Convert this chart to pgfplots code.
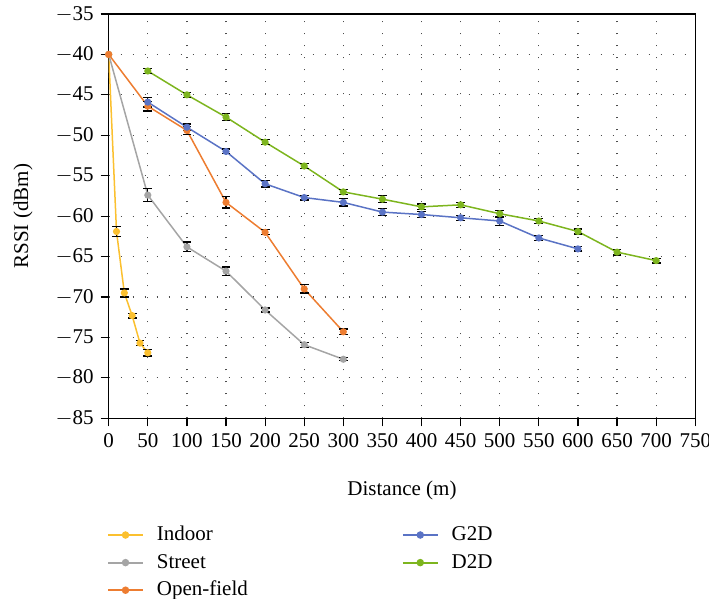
\documentclass[border=0pt]{standalone}
\usepackage{pgfplots}
\usepackage{pgfplotstable}
\pgfplotsset{compat=1.18}
\usepackage{fontspec}
\setmainfont{Liberation Serif}

\definecolor{cIn}{HTML}{FBC02F}
\definecolor{cSt}{HTML}{A5A5A5}
\definecolor{cOp}{HTML}{ED7D31}
\definecolor{cG}{HTML}{5A73C5}
\definecolor{cD}{HTML}{7DB51E}

\pgfplotstableread{
x y e
0 -40 0
10 -61.9 0.6
20 -69.5 0.5
30 -72.3 0.3
40 -75.7 0.3
50 -76.9 0.4
}\tIn
\pgfplotstableread{
x y e
0 -40 0
50 -57.4 0.8
100 -63.8 0.6
150 -66.8 0.5
200 -71.6 0.25
250 -75.9 0.3
300 -77.7 0.2
}\tSt
\pgfplotstableread{
x y e
0 -40 0
50 -46.4 0.6
100 -49.4 0.5
150 -58.3 0.7
200 -62.0 0.3
250 -69.0 0.5
300 -74.3 0.35
}\tOp
\pgfplotstableread{
x y e
50 -45.9 0.6
100 -49.0 0.4
150 -52.0 0.3
200 -56.0 0.4
250 -57.7 0.3
300 -58.3 0.45
350 -59.5 0.4
400 -59.8 0.35
450 -60.2 0.3
500 -60.6 0.6
550 -62.7 0.3
600 -64.05 0.25
}\tG
\pgfplotstableread{
x y e
50 -42.05 0.3
100 -45.0 0.3
150 -47.75 0.4
200 -50.85 0.3
250 -53.8 0.35
300 -57.0 0.3
350 -57.9 0.45
400 -58.85 0.35
450 -58.6 0.3
500 -59.7 0.4
550 -60.6 0.35
600 -61.9 0.3
650 -64.45 0.35
700 -65.5 0.3
}\tD

\pgfplotsset{
  ser/.style={color=#1, line width=0.75pt, mark=*, mark size=1.4pt, mark options={solid, fill=#1, draw=#1}},
  errs/.style={forget plot, draw=none, mark=none, restrict x to domain=1:800,
    error bars/.cd, y dir=both, y explicit,
    error bar style={draw=black, line width=0.6pt, solid},
    error mark options={rotate=90, mark size=2.2pt, draw=black, line width=0.6pt}},
}

\begin{document}
\begin{tikzpicture}
\begin{axis}[
  scale only axis, width=293.3pt, height=202.15pt,
  xmin=0, xmax=750, ymin=-85, ymax=-35,
  xtick={0,50,...,750}, ytick={-85,-80,...,-35},
  tick align=outside, xtick pos=bottom, ytick pos=left,
  major tick length=4pt,
  tick style={black, line width=0.6pt},
  axis line style={black, line width=0.65pt},
  grid=major,
  grid style={black!70, line width=0.6pt, dash pattern=on 0.6pt off 5.4pt},
  font=\fontsize{10.5}{12}\selectfont,
  ticklabel style={font=\fontsize{10.5}{12}\selectfont},
  /pgf/number format/assume math mode=true,
  xticklabel={\pgfmathprintnumber{\tick}},
  yticklabel={\pgfmathparse{abs(\tick)}$-$\pgfmathprintnumber{\pgfmathresult}},
  xlabel={Distance (m)}, ylabel={RSSI (dBm)},
  xlabel style={at={(axis description cs:0.5,-0.1795)}, anchor=center},
  ylabel style={at={(axis description cs:-0.1459,0.5)}, anchor=center},
  legend image code/.code={\draw[line width=0.9pt, mark repeat=2,mark phase=2] plot coordinates {(0pt,0pt) (8.75pt,0pt) (17.5pt,0pt)};},
  legend columns=3, transpose legend, legend cell align=left,
  legend style={at={(axis description cs:-0.0027,-0.2595)}, anchor=north west,
    draw=none, fill=none, inner sep=0pt, outer sep=0pt,
    font=\fontsize{10.5}{12}\selectfont, row sep=2pt,
    nodes={inner sep=1pt, text height=7.6pt, text depth=2.2pt},
    /tikz/every odd column/.append style={column sep=5.5pt},
    /tikz/every even column/.append style={column sep=76pt}},
]
\coordinate (O) at (rel axis cs:0,0);
\addplot[ser=cIn] table[x=x,y=y] {\tIn};
\addlegendentry{Indoor}
\addplot[errs] table[x=x,y=y,y error=e] {\tIn};
\addplot[ser=cSt] table[x=x,y=y] {\tSt};
\addlegendentry{Street}
\addplot[errs] table[x=x,y=y,y error=e] {\tSt};
\addplot[ser=cOp] table[x=x,y=y] {\tOp};
\addlegendentry{Open-field}
\addplot[errs] table[x=x,y=y,y error=e] {\tOp};
\addplot[ser=cG] table[x=x,y=y] {\tG};
\addlegendentry{G2D}
\addplot[errs] table[x=x,y=y,y error=e] {\tG};
\addplot[ser=cD] table[x=x,y=y] {\tD};
\addlegendentry{D2D}
\addplot[errs] table[x=x,y=y,y error=e] {\tD};
\end{axis}
\pgfresetboundingbox
\useasboundingbox (O) ++(-54.35pt,-90.35pt) rectangle ++(354.5pt,299.5pt);
\end{tikzpicture}
\end{document}
